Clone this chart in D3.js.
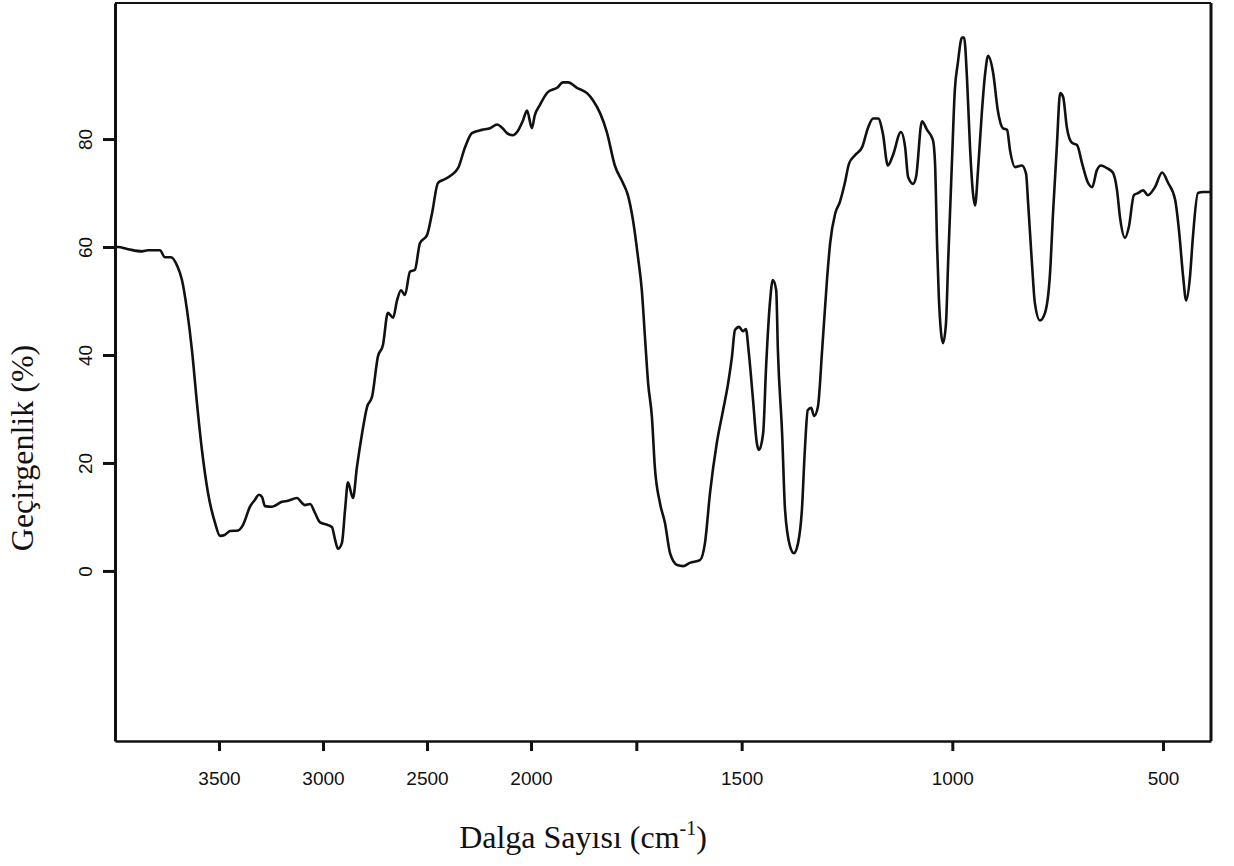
<!DOCTYPE html>
<html>
<head>
<meta charset="utf-8">
<script src="https://cdn.jsdelivr.net/npm/d3@7"></script>
<style>
  body { margin: 0; background: #fff; }
  svg { display: block; }
</style>
</head>
<body>
<div id="spectrum"></div>
<script>
// wavenumber (cm-1) and transmittance (%)
var waveNumbers = [4000, 3986, 3937, 3870, 3841, 3784, 3760, 3731, 3702, 3678, 3654, 3630, 3606, 3582, 3553, 3519, 3495, 3471, 3447, 3409, 3385,
   3351, 3327, 3308, 3293, 3279, 3245, 3197, 3168, 3125, 3101, 3087, 3062, 3038, 3014, 2976, 2957, 2942, 2928, 2909, 2894, 2880, 2856,
   2837, 2812, 2788, 2764, 2736, 2712, 2688, 2663, 2644, 2625, 2606, 2582, 2558, 2534, 2500, 2476, 2447, 2413, 2351, 2317, 2284, 2236,
   2197, 2163, 2139, 2115, 2087, 2067, 2038, 2019,
   1998, 1991, 1979, 1960, 1938, 1924, 1912, 1891, 1867, 1853, 1836, 1820, 1801, 1782, 1770, 1758, 1746, 1737, 1729, 1722, 1713, 1706,
   1694, 1682, 1670, 1653, 1639, 1623, 1599, 1587, 1575, 1559, 1544, 1532, 1523, 1516, 1506, 1497, 1490, 1483, 1473, 1464, 1459, 1449,
   1442, 1433, 1426, 1418, 1414, 1404, 1397, 1385, 1376, 1366, 1357, 1350, 1343, 1335, 1328, 1319, 1309, 1297, 1290, 1278, 1267, 1255,
   1245, 1231, 1214, 1200, 1188, 1176, 1165, 1153, 1141, 1122, 1112, 1105, 1093, 1086, 1072, 1060, 1046, 1041, 1036, 1032, 1022, 1015,
   1010, 1001, 994, 987, 977, 972, 965, 958, 951, 946, 939, 930, 922, 915, 903, 892, 880, 870, 863, 851, 835, 825, 820, 811, 804, 792,
   780, 768, 761, 752, 744, 737, 728, 716, 704, 692, 678, 668, 657, 647, 633, 619, 609, 602, 590, 581, 569, 559, 547, 536, 519, 502,
   488, 471, 462, 452, 445, 436, 429, 417, 405, 391, 386]

var transmittance = [60.0, 60.0, 59.6, 59.2, 59.4, 59.4, 58.1, 58.1, 56.6, 53.9, 48.4, 40.9, 31.1, 22.4, 14.5, 8.9, 6.5, 6.7, 7.4, 7.5, 8.5,
   11.9, 13.2, 14.1, 13.7, 12.0, 11.9, 12.8, 13.0, 13.5, 12.6, 12.2, 12.4, 10.7, 9.0, 8.5, 8.1, 5.8, 4.1, 5.2, 11.3, 16.4, 13.5,
   19.2, 25.5, 30.4, 32.3, 39.7, 41.8, 47.8, 46.9, 50.1, 52.0, 51.1, 55.4, 55.8, 60.7, 62.2, 66.2, 71.9, 72.6, 74.6, 78.5, 81.1, 81.7,
   82.0, 82.7, 82.1, 81.1, 80.7, 81.3, 83.5, 85.3,
   82.0, 84.4, 86.3, 88.7, 89.5, 90.5, 90.5, 89.5, 88.5, 87.2, 84.8, 81.3, 75.1, 71.9, 69.6, 65.0, 58.1, 52.0, 42.7, 34.8, 28.5, 19.2,
   12.6, 8.9, 3.3, 1.1, 0.9, 1.5, 2.0, 5.2, 14.5, 23.7, 29.8, 34.8, 39.7, 44.6, 45.2, 44.4, 44.8, 40.4, 31.7, 23.7, 22.4, 25.5,
   37.8, 49.6, 53.9, 52.0, 40.9, 25.5, 11.3, 4.5, 3.3, 5.2, 11.3, 22.4, 29.8, 30.2, 28.7, 30.4, 40.9, 54.4, 60.7, 66.2, 68.3, 71.9,
   75.5, 77.0, 78.5, 82.1, 83.8, 83.8, 81.1, 75.1, 77.0, 81.3, 78.5, 73.0, 71.7, 73.0, 83.3, 81.7, 79.8, 75.5, 60.0, 50.7, 42.2, 45.9,
   57.0, 75.5, 89.1, 94.0, 98.8, 98.8, 91.0, 78.5, 70.0, 67.7, 74.2, 84.8, 92.2, 95.4, 92.2, 85.3, 82.0, 81.7, 77.9, 74.8, 75.1, 73.6, 68.1, 57.0, 49.6, 46.4,
   47.8, 55.2, 66.2, 78.5, 88.5, 87.8, 82.1, 79.3, 78.9, 75.5, 71.9, 71.1, 74.2, 75.1, 74.6, 73.8, 70.5, 65.5, 61.7, 63.7, 69.6, 70.0, 70.5, 69.6, 71.1, 73.8,
   71.9, 68.7, 63.1, 54.4, 50.1, 54.4, 61.8, 70.0, 70.2, 70.2, 70.2]

var xTicks = [3500, 3000, 2500, 2000, 1750, 1500, 1000, 500]
var xTickLabels = ["3500", "3000", "2500", "2000", "", "1500", "1000", "500"]
var yTicks = [0, 20, 40, 60, 80]

var data = waveNumbers.map(function(w, i) { return {w: w, t: transmittance[i]} })

var width = 1234,
    height = 866
// plot frame (window.top is reserved, so plotTop)
var plotLeft = 115, plotRight = 1211, plotTop = 3, plotBottom = 741

var svg = d3.select("#spectrum")
   .append("svg")
      .attr("width", width)
      .attr("height", height)

// the scanned axis is compressed above 2000 cm-1 (half scale)
var x = d3.scaleLinear()
   .domain([4000, 2000, 386])
   .range([plotLeft, 531, plotRight])

var y = d3.scaleLinear()
   .domain([-31.5, 105.2])
   .range([plotBottom, plotTop])

// frame: top and right sides
svg.append("line")
   .attr("x1", plotLeft).attr("x2", plotRight)
   .attr("y1", plotTop).attr("y2", plotTop)
   .attr("stroke", "#111").attr("stroke-width", 2)
svg.append("line")
   .attr("x1", plotRight).attr("x2", plotRight)
   .attr("y1", plotTop).attr("y2", plotBottom)
   .attr("stroke", "#111").attr("stroke-width", 3)

// bottom axis
var xAxis = svg.append("g")
   .attr("transform", "translate(0," + plotBottom + ")")
   .call(d3.axisBottom(x)
      .tickValues(xTicks)
      .tickFormat(function(d, i) { return xTickLabels[i] })
      .tickSizeInner(10)
      .tickSizeOuter(0)
      .tickPadding(21))
xAxis.select(".domain").attr("stroke", "#111").attr("stroke-width", 2.5)
xAxis.selectAll(".tick line").attr("stroke", "#111").attr("stroke-width", 3)
xAxis.selectAll(".tick text")
   .attr("fill", "#111")
   .style("font-family", "'Liberation Sans', Arial, sans-serif")
   .style("font-size", "19px")

// left axis, labels turned on their side
var yAxis = svg.append("g")
   .attr("transform", "translate(" + plotLeft + ",0)")
   .call(d3.axisLeft(y)
      .tickValues(yTicks)
      .tickSizeInner(12)
      .tickSizeOuter(0))
yAxis.select(".domain").attr("stroke", "#111").attr("stroke-width", 3)
yAxis.selectAll(".tick line").attr("stroke", "#111").attr("stroke-width", 3)
yAxis.selectAll(".tick text")
   .attr("transform", "rotate(-90)")
   .attr("x", 0)
   .attr("y", -23)
   .attr("dy", 0)
   .attr("fill", "#111")
   .style("text-anchor", "middle")
   .style("font-family", "'Liberation Sans', Arial, sans-serif")
   .style("font-size", "19px")

// the spectrum
var line = d3.line()
   .x(function(d) { return x(d.w) })
   .y(function(d) { return y(d.t) })
   .curve(d3.curveMonotoneX)

svg.append("path")
   .datum(data)
   .attr("d", line)
   .attr("fill", "none")
   .attr("stroke", "#111")
   .attr("stroke-width", 2.6)
   .attr("stroke-linejoin", "round")

// axis titles
var xTitle = svg.append("text")
   .attr("x", 583)
   .attr("y", 848)
   .style("text-anchor", "middle")
   .style("font-family", "'Liberation Serif', 'Times New Roman', serif")
   .style("font-size", "32px")
   .attr("fill", "#111")
xTitle.append("tspan").text("Dalga Sayısı (cm")
xTitle.append("tspan").text("-1").attr("dy", -13).style("font-size", "20px")
xTitle.append("tspan").text(")").attr("dy", 13)

svg.append("text")
   .attr("transform", "translate(33,448) rotate(-90)")
   .style("text-anchor", "middle")
   .style("font-family", "'Liberation Serif', 'Times New Roman', serif")
   .style("font-size", "32px")
   .attr("fill", "#111")
   .text("Geçirgenlik (%)")
</script>
</body>
</html>
